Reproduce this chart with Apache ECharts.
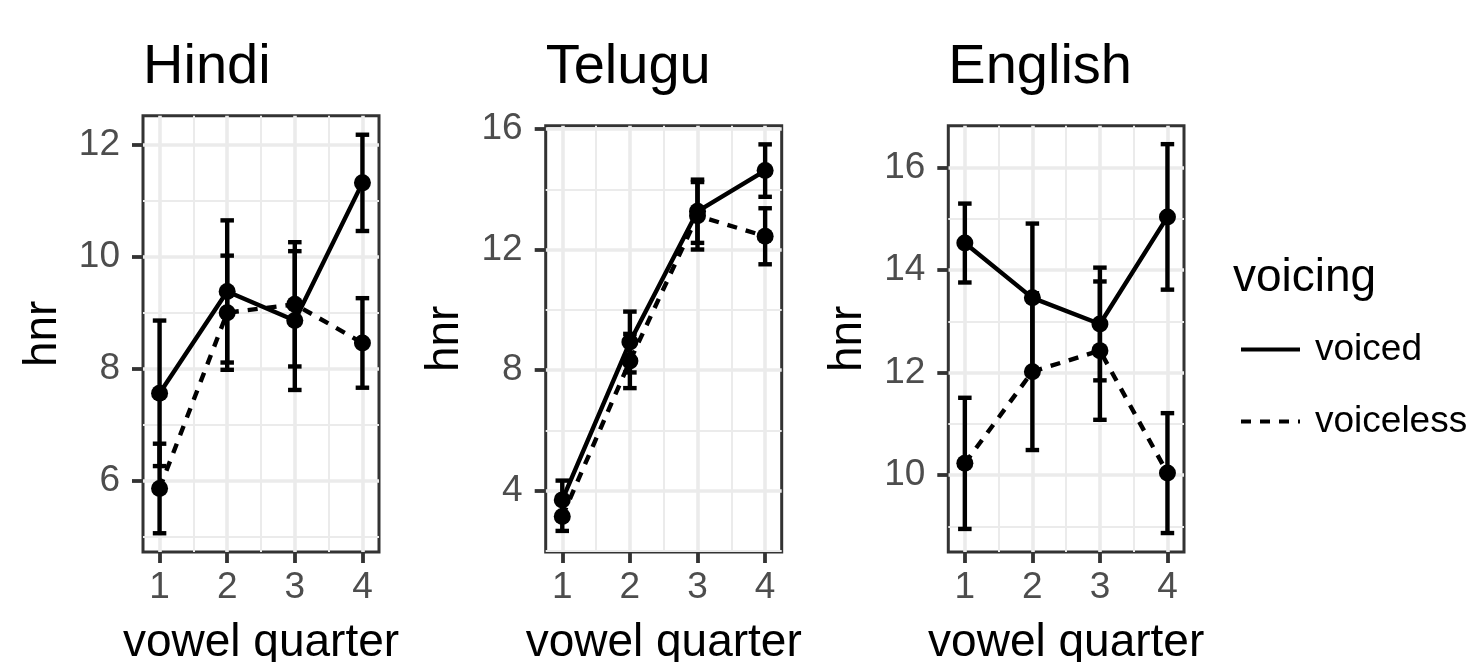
<!DOCTYPE html>
<html><head><meta charset="utf-8">
<script src="https://cdn.jsdelivr.net/npm/echarts@6/dist/echarts.min.js"></script>
<style>html,body{margin:0;padding:0;background:#fff}#c{width:1468px;height:662px}</style>
</head><body><div id="c"></div>
<script>
// ---- data ----
const quarters = [1, 2, 3, 4];
const panelNames = ['Hindi', 'Telugu', 'English'];
const voicingLevels = ['voiced', 'voiceless'];

const hindiVoiced = [7.56, 9.38, 8.86, 11.32];
const hindiVoicedErr = [1.30, 1.27, 1.24, 0.86];
const hindiVoiceless = [5.86, 9.00, 9.15, 8.46];
const hindiVoicelessErr = [0.80, 1.02, 1.11, 0.80];

const teluguVoiced = [3.69, 8.93, 13.27, 14.62];
const teluguVoicedErr = [0.64, 1.01, 1.05, 0.87];
const teluguVoiceless = [3.14, 8.30, 13.12, 12.44];
const teluguVoicelessErr = [0.48, 0.90, 1.12, 0.93];

const englishVoiced = [14.53, 13.46, 12.95, 15.04];
const englishVoicedErr = [0.77, 1.45, 1.10, 1.42];
const englishVoiceless = [10.23, 12.02, 12.43, 10.04];
const englishVoicelessErr = [1.28, 1.53, 1.35, 1.17];

const xTicks = [1, 2, 3, 4];
const xMinorTicks = [1.5, 2.5, 3.5];
const xLimits = [0.755, 4.245];

const hindiYTicks = [6, 8, 10, 12];
const hindiYMinor = [5, 7, 9, 11];
const hindiYLimits = [4.725, 12.52];
const teluguYTicks = [4, 8, 12, 16];
const teluguYMinor = [2, 6, 10, 14];
const teluguYLimits = [1.96, 16.11];
const englishYTicks = [10, 12, 14, 16];
const englishYMinor = [9, 11, 13, 15];
const englishYLimits = [8.5, 16.82];

const xAxisTitle = 'vowel quarter';
const yAxisTitle = 'hnr';
const legendTitle = 'voicing';

// ---- assembly ----
const panels = [
  {name: panelNames[0], v: hindiVoiced, ve: hindiVoicedErr, u: hindiVoiceless, ue: hindiVoicelessErr, yt: hindiYTicks, ym: hindiYMinor, yl: hindiYLimits},
  {name: panelNames[1], v: teluguVoiced, ve: teluguVoicedErr, u: teluguVoiceless, ue: teluguVoicelessErr, yt: teluguYTicks, ym: teluguYMinor, yl: teluguYLimits},
  {name: panelNames[2], v: englishVoiced, ve: englishVoicedErr, u: englishVoiceless, ue: englishVoicelessErr, yt: englishYTicks, ym: englishYMinor, yl: englishYLimits}
];
const layout = [
  {left: 143, top: 115.7, width: 236, height: 436.3},
  {left: 545.7, top: 125.7, width: 236, height: 426.3},
  {left: 948.3, top: 125.7, width: 235.7, height: 426.3}
];
const FONT = 'Liberation Sans, Arial, Helvetica, sans-serif';
const DASH = [10, 9];
const LW = 4.4;
const CAP_HALF = 0.1; // errorbar width 0.2 in x units

function renderErrorBar(params, api) {
  const x = api.value(0), lo = api.value(1), hi = api.value(2);
  const pLo = api.coord([x, lo]);
  const pHi = api.coord([x, hi]);
  const cl = api.coord([x - CAP_HALF, lo]);
  const cr = api.coord([x + CAP_HALF, lo]);
  const st = {stroke: '#000', lineWidth: LW, fill: null};
  return {type: 'group', children: [
    {type: 'line', shape: {x1: pLo[0], y1: pLo[1], x2: pHi[0], y2: pHi[1]}, style: st},
    {type: 'line', shape: {x1: cl[0], y1: pLo[1], x2: cr[0], y2: pLo[1]}, style: st},
    {type: 'line', shape: {x1: cl[0], y1: pHi[1], x2: cr[0], y2: pHi[1]}, style: st}
  ]};
}

const grids = [], xAxes = [], yAxes = [], series = [], titles = [];
panels.forEach((p, i) => {
  const L = layout[i];
  grids.push({left: L.left, top: L.top, width: L.width, height: L.height, show: true,
    borderColor: '#333333', borderWidth: 3, backgroundColor: '#fff', containLabel: false, outerBoundsMode: 'none'});
  titles.push({text: p.name, left: L.left, top: 40, textStyle: {fontFamily: FONT, fontSize: 56, fontWeight: 'normal', color: '#000'}, padding: 0});
  xAxes.push({type: 'value', gridIndex: i, min: xLimits[0], max: xLimits[1], position: 'bottom',
    name: xAxisTitle, nameLocation: 'middle', nameGap: 68,
    nameTextStyle: {fontFamily: FONT, fontSize: 46, color: '#000'},
    axisLine: {show: false},
    axisTick: {show: true, length: 11, customValues: xTicks, lineStyle: {color: '#333333', width: 3.8}},
    axisLabel: {show: true, customValues: xTicks, margin: 17, fontFamily: FONT, fontSize: 37, color: '#4D4D4D'},
    splitLine: {show: true, lineStyle: {color: '#EBEBEB', width: 3.6}}
  });
  xAxes.push({type: 'value', gridIndex: i, min: xLimits[0], max: xLimits[1], position: 'top',
    axisLine: {show: false}, axisLabel: {show: false},
    axisTick: {show: false, customValues: xMinorTicks},
    splitLine: {show: true, lineStyle: {color: '#EBEBEB', width: 2}}
  });
  yAxes.push({type: 'value', gridIndex: i, min: p.yl[0], max: p.yl[1], position: 'left',
    name: yAxisTitle, nameLocation: 'middle', nameGap: 77, nameRotate: 90,
    nameTextStyle: {fontFamily: FONT, fontSize: 46, color: '#000'},
    axisLine: {show: false},
    axisTick: {show: true, length: 11, customValues: p.yt, lineStyle: {color: '#333333', width: 3.8}},
    axisLabel: {show: true, customValues: p.yt, margin: 23, fontFamily: FONT, fontSize: 37, color: '#4D4D4D'},
    splitLine: {show: true, lineStyle: {color: '#EBEBEB', width: 3.6}}
  });
  yAxes.push({type: 'value', gridIndex: i, min: p.yl[0], max: p.yl[1], position: 'right',
    axisLine: {show: false}, axisLabel: {show: false},
    axisTick: {show: false, customValues: p.ym},
    splitLine: {show: true, lineStyle: {color: '#EBEBEB', width: 2}}
  });
  const groups = [
    {name: voicingLevels[0], m: p.v, e: p.ve, type: 'solid'},
    {name: voicingLevels[1], m: p.u, e: p.ue, type: DASH}
  ];
  groups.forEach(g => {
    series.push({type: 'custom', name: g.name + ' se', xAxisIndex: 2 * i, yAxisIndex: 2 * i,
      renderItem: renderErrorBar, encode: {x: 0, y: [1, 2]}, z: 3,
      data: quarters.map((q, k) => [q, g.m[k] - g.e[k], g.m[k] + g.e[k]]), silent: true});
    series.push({type: 'line', name: g.name, xAxisIndex: 2 * i, yAxisIndex: 2 * i,
      data: quarters.map((q, k) => [q, g.m[k]]), symbol: 'circle', symbolSize: 17, showSymbol: true,
      itemStyle: {color: '#000'}, lineStyle: {color: '#000', width: LW, type: g.type}, z: 4});
  });
});
titles.push({text: legendTitle, left: 1233, top: 255, padding: 0,
  textStyle: {fontFamily: FONT, fontSize: 46, fontWeight: 'normal', color: '#000'}});

const chart = echarts.init(document.getElementById('c'));
chart.setOption({
  animation: false,
  backgroundColor: '#fff',
  title: titles,
  grid: grids,
  xAxis: xAxes,
  yAxis: yAxes,
  legend: {data: voicingLevels, orient: 'vertical', left: 1239, top: 331, padding: 0,
    itemWidth: 59, itemHeight: 14, itemGap: 35, selectedMode: false,
    itemStyle: {opacity: 0},
    lineStyle: {width: 4, color: '#000'},
    textStyle: {fontFamily: FONT, fontSize: 37, color: '#000', padding: [0, 0, 0, 10]}},
  series: series
});
</script></body></html>
